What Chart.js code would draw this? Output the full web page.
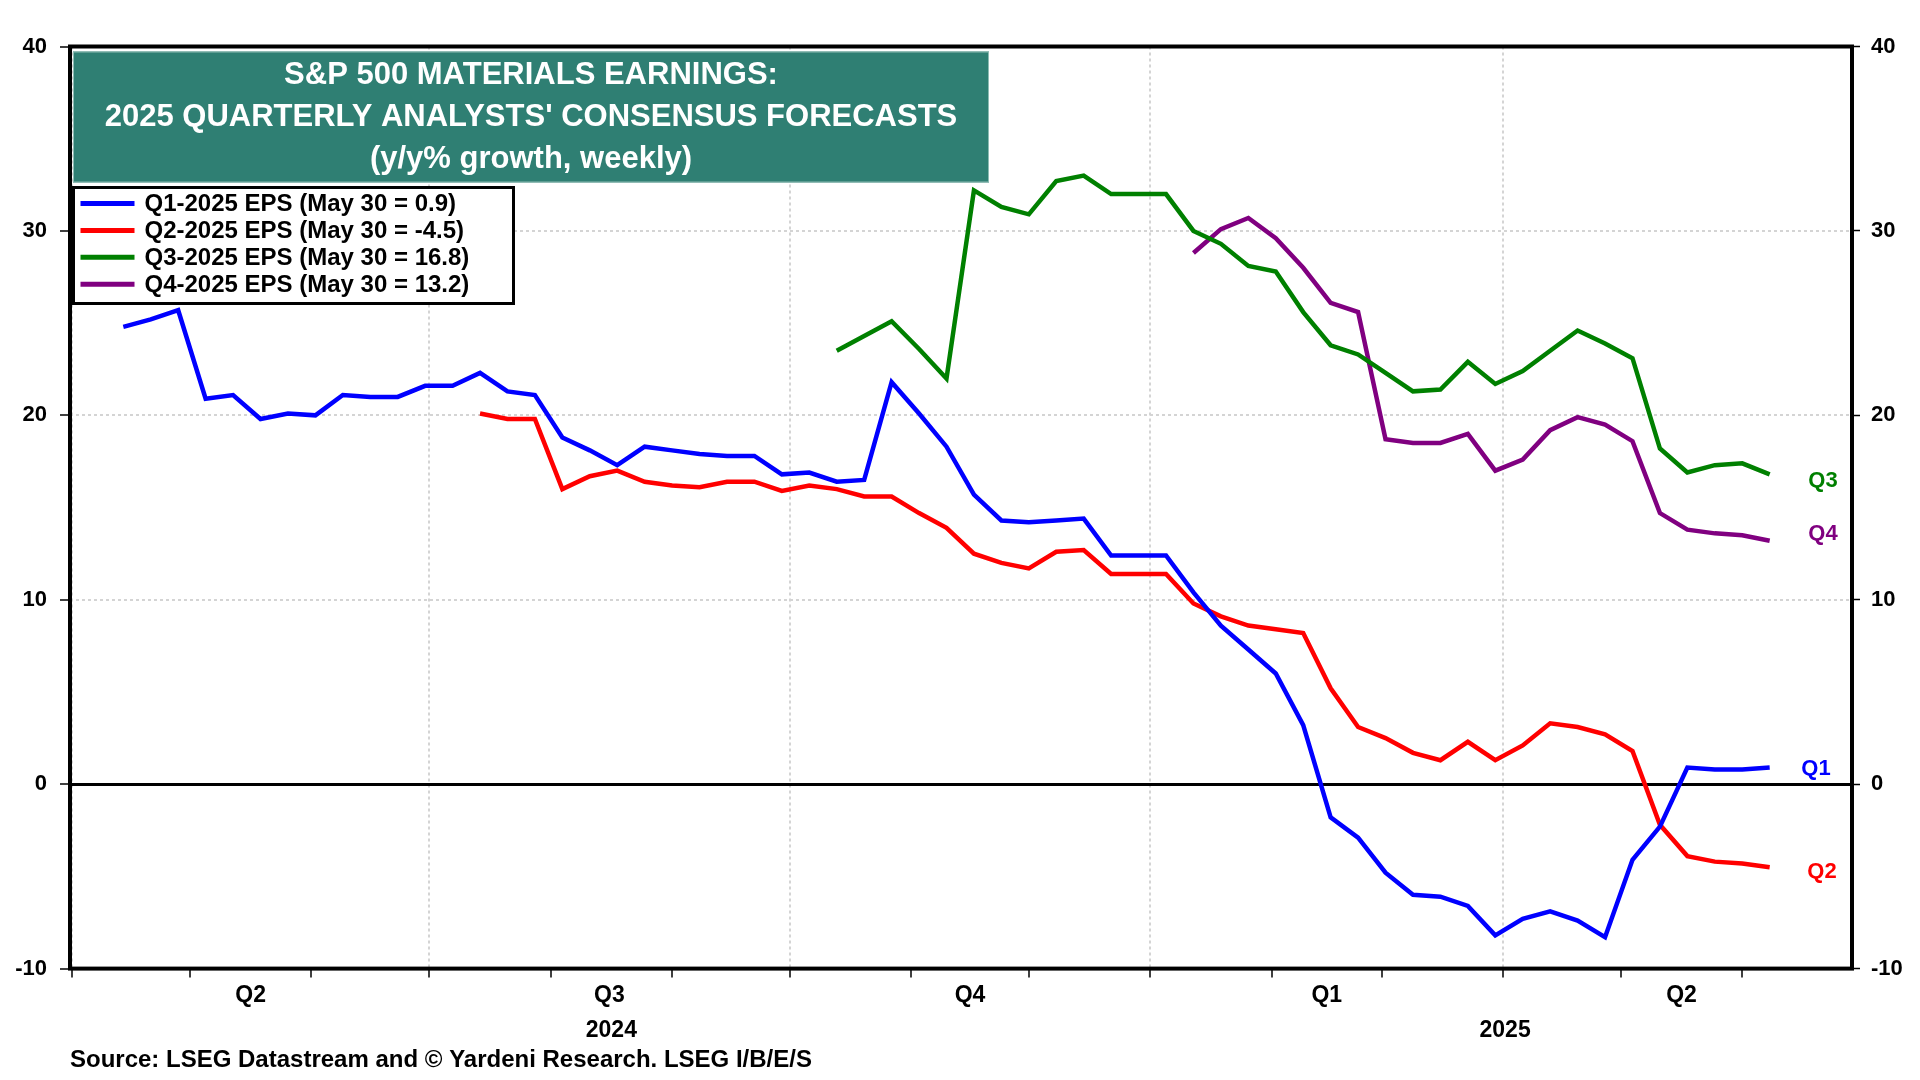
<!DOCTYPE html>
<html>
<head>
<meta charset="utf-8">
<script src="https://cdn.jsdelivr.net/npm/chart.js@4.4.1/dist/chart.umd.min.js"></script>
<style>
  body { margin: 0; background: #fff; }
  canvas { display: block; }
</style>
</head>
<body>
<canvas id="chart1" width="1920" height="1080"></canvas>
<script>
// weekly readings, x axis is days after 1 Apr 2024
const firstDay = 13;

const q1Start = 0;
const q1Eps = [24.8, 25.2, 25.7, 20.9, 21.1, 19.8, 20.1, 20.0, 21.1, 21.0,
               21.0, 21.6, 21.6, 22.3, 21.3, 21.1, 18.8, 18.1, 17.3, 18.3,
               18.1, 17.9, 17.8, 17.8, 16.8, 16.9, 16.4, 16.5, 21.8, 20.1,
               18.3, 15.7, 14.3, 14.2, 14.3, 14.4, 12.4, 12.4, 12.4, 10.4,
               8.6, 7.3, 6.0, 3.2, -1.8, -2.9, -4.8, -6.0, -6.1, -6.6,
               -8.2, -7.3, -6.9, -7.4, -8.3, -4.1, -2.3, 0.9, 0.8, 0.8, 0.9];

const q2Start = 13;
const q2Eps = [20.1, 19.8, 19.8, 16.0, 16.7, 17.0, 16.4, 16.2, 16.1, 16.4,
               16.4, 15.9, 16.2, 16.0, 15.6, 15.6, 14.7, 13.9, 12.5, 12.0,
               11.7, 12.6, 12.7, 11.4, 11.4, 11.4, 9.8, 9.1, 8.6, 8.4,
               8.2, 5.2, 3.1, 2.5, 1.7, 1.3, 2.3, 1.3, 2.1, 3.3,
               3.1, 2.7, 1.8, -2.2, -3.9, -4.2, -4.3, -4.5];

const q3Start = 26;
const q3Eps = [23.5, 24.3, 25.1, 23.6, 22.0, 32.2, 31.3, 30.9, 32.7, 33.0,
               32.0, 32.0, 32.0, 30.0, 29.3, 28.1, 27.8, 25.6, 23.8, 23.3,
               22.3, 21.3, 21.4, 22.9, 21.7, 22.4, 23.5, 24.6, 23.9, 23.1,
               18.2, 16.9, 17.3, 17.4, 16.8];

const q4Start = 39;
const q4Eps = [28.8, 30.1, 30.7, 29.6, 28.0, 26.1, 25.6, 18.7, 18.5, 18.5,
               19.0, 17.0, 17.6, 19.2, 19.9, 19.5, 18.6, 14.7, 13.8, 13.6,
               13.5, 13.2];

const seriesLabels = ['Q1-2025 EPS (May 30 = 0.9)', 'Q2-2025 EPS (May 30 = -4.5)',
                      'Q3-2025 EPS (May 30 = 16.8)', 'Q4-2025 EPS (May 30 = 13.2)'];
const endLabels = ['Q1', 'Q2', 'Q3', 'Q4'];
const seriesColors = ['#0000ff', '#ff0000', '#008000', '#800080'];

const monthStarts = ['2024-04-01', '2024-05-01', '2024-06-01', '2024-07-01', '2024-08-01',
                     '2024-09-01', '2024-10-01', '2024-11-01', '2024-12-01', '2025-01-01',
                     '2025-02-01', '2025-03-01', '2025-04-01', '2025-05-01', '2025-06-01'];
const quarterStarts = ['2024-04-01', '2024-07-01', '2024-10-01', '2025-01-01', '2025-04-01', '2025-07-01'];
const quarterLabels = ['Q2', 'Q3', 'Q4', 'Q1', 'Q2'];
const yearStarts = ['2024-04-01', '2025-01-01', '2025-07-01'];
const yearLabels = ['2024', '2025'];

const titleLines = ['S&P 500 MATERIALS EARNINGS:',
                    "2025 QUARTERLY ANALYSTS' CONSENSUS FORECASTS",
                    '(y/y% growth, weekly)'];
const sourceText = 'Source: LSEG Datastream and \u00a9 Yardeni Research. LSEG I/B/E/S';

const FONT = "'Liberation Sans', Arial, Helvetica, sans-serif";
const NONE = 'rgba(0,0,0,0)';

const dayOf = d => (Date.parse(d) - Date.parse('2024-04-01')) / 86400000;
const toPoints = (vals, start) => vals.map((v, k) => ({ x: firstDay + 7 * (start + k), y: v }));
const mids = list => list.slice(0, -1).map((d, k) => (dayOf(d) + dayOf(list[k + 1])) / 2);

const quarterDays = quarterStarts.map(dayOf);
const xMin = -0.6, xMax = 454;

const series = [[q1Eps, q1Start], [q2Eps, q2Start], [q3Eps, q3Start], [q4Eps, q4Start]];

const overlay = {
  id: 'overlay',
  afterDraw(chart) {
    const { ctx, chartArea: a, scales } = chart;
    ctx.save();

    // frame
    ctx.strokeStyle = '#000';
    ctx.lineWidth = 4;
    ctx.strokeRect(a.left, a.top, a.right - a.left, a.bottom - a.top);

    // title box
    ctx.fillStyle = '#2f7f73';
    ctx.fillRect(a.left + 3, a.top + 5, 916, 131);
    ctx.strokeStyle = '#8dbbb3';
    ctx.lineWidth = 1;
    ctx.strokeRect(a.left + 3.5, a.top + 5.5, 915, 130);
    ctx.fillStyle = '#fff';
    ctx.font = 'bold 31px ' + FONT;
    ctx.textAlign = 'center';
    ctx.textBaseline = 'middle';
    titleLines.forEach((t, k) => ctx.fillText(t, a.left + 461, a.top + 29 + k * 42.2));

    // legend
    const lx = a.left + 3.5, ly = a.top + 141;
    ctx.fillStyle = '#fff';
    ctx.fillRect(lx, ly, 440, 116);
    ctx.strokeStyle = '#000';
    ctx.lineWidth = 3;
    ctx.strokeRect(lx, ly, 440, 116);
    ctx.font = 'bold 24px ' + FONT;
    ctx.textAlign = 'left';
    chart.data.datasets.forEach((ds, k) => {
      const y = ly + 16 + k * 26.9;
      ctx.strokeStyle = ds.borderColor;
      ctx.lineWidth = 5;
      ctx.beginPath();
      ctx.moveTo(lx + 7, y);
      ctx.lineTo(lx + 61, y);
      ctx.stroke();
      ctx.fillStyle = '#000';
      ctx.fillText(ds.label, lx + 71, y + 1);
    });

    // end labels
    const nudgeY = [1, 5, 7, -7];
    const nudgeX = [-7, -1, 0, 0];
    ctx.font = 'bold 22px ' + FONT;
    ctx.textAlign = 'center';
    chart.data.datasets.forEach((ds, k) => {
      const last = ds.data[ds.data.length - 1];
      ctx.fillStyle = ds.borderColor;
      ctx.fillText(endLabels[k], a.right - 29 + nudgeX[k], scales.y.getPixelForValue(last.y) + nudgeY[k]);
    });

    // source
    ctx.fillStyle = '#000';
    ctx.font = 'bold 24px ' + FONT;
    ctx.textAlign = 'left';
    ctx.fillText(sourceText, a.left, 1060);
    ctx.restore();
  }
};

const tickFont = { family: FONT, size: 22, weight: 'bold' };
const dateFont = { family: FONT, size: 23, weight: 'bold' };

new Chart(document.getElementById('chart1'), {
  type: 'line',
  data: {
    datasets: series.map(([vals, start], k) => ({
      label: seriesLabels[k],
      data: toPoints(vals, start),
      borderColor: seriesColors[k],
      backgroundColor: seriesColors[k],
      borderWidth: 4.5,
      pointRadius: 0,
      tension: 0,
      yAxisID: 'y'
    }))
  },
  options: {
    responsive: false,
    maintainAspectRatio: false,
    devicePixelRatio: 1,
    animation: false,
    layout: { padding: { top: 46.5, right: 0, bottom: 29.4, left: 0 } },
    plugins: {
      legend: { display: false },
      tooltip: { enabled: false }
    },
    scales: {
      x: {
        type: 'linear', min: xMin, max: xMax, position: 'bottom', weight: 0,
        afterBuildTicks: s => { s.ticks = monthStarts.map(d => ({ value: dayOf(d) })); },
        ticks: { display: false },
        grid: {
          color: c => (c.tick && quarterDays.includes(c.tick.value)) ? '#d4d4d4' : NONE,
          lineWidth: 2, tickColor: '#000', tickLength: 9, tickWidth: 1.5
        },
        border: { display: false, dash: [3, 3] },
        afterFit: s => { s.height = 9; }
      },
      xq: {
        type: 'linear', min: xMin, max: xMax, position: 'bottom', weight: 1,
        afterBuildTicks: s => { s.ticks = mids(quarterStarts).map(v => ({ value: v })); },
        ticks: { autoSkip: false, maxRotation: 0, padding: 4, color: '#000', font: dateFont,
                 callback: (v, i) => quarterLabels[i] },
        grid: { display: false, drawTicks: false },
        border: { display: false },
        afterFit: s => { s.height = 37; }
      },
      xy: {
        type: 'linear', min: xMin, max: xMax, position: 'bottom', weight: 2,
        afterBuildTicks: s => { s.ticks = mids(yearStarts).map(v => ({ value: v })); },
        ticks: { autoSkip: false, maxRotation: 0, padding: 2, color: '#000', font: dateFont,
                 callback: (v, i) => yearLabels[i] },
        grid: { display: false, drawTicks: false },
        border: { display: false },
        afterFit: s => { s.height = 36; }
      },
      y: {
        type: 'linear', position: 'left', min: -10, max: 40,
        ticks: { stepSize: 10, padding: 13, color: '#000', font: tickFont },
        grid: {
          color: c => (c.tick && c.tick.value > -10 && c.tick.value < 40 && c.tick.value !== 0) ? '#d4d4d4' : NONE,
          lineWidth: 2, tickColor: '#000', tickLength: 10, tickWidth: 1.5
        },
        border: { display: false, dash: [3, 3] },
        afterFit: s => { s.width = 70; }
      },
      y2: {
        type: 'linear', position: 'right', min: -10, max: 40,
        ticks: { stepSize: 10, padding: 11, color: '#000', font: tickFont },
        grid: {
          color: c => (c.tick && c.tick.value === 0) ? '#000' : NONE,
          lineWidth: 3, tickColor: '#000', tickLength: 8, tickWidth: 1.5
        },
        border: { display: false },
        afterFit: s => { s.width = 68; }
      }
    }
  },
  plugins: [overlay]
});
</script>
</body>
</html>
